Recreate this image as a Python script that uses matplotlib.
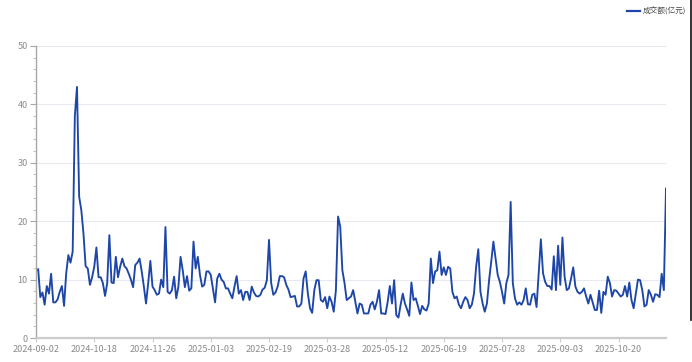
import matplotlib
matplotlib.use("Agg")
import matplotlib.pyplot as plt
from matplotlib.lines import Line2D
import numpy as np

plt.rcParams['font.family'] = ['Noto Sans CJK SC', 'DejaVu Sans']

series_name = "成交额(亿元)"

tick_labels = ["2024-09-02", "2024-10-18", "2024-11-26", "2025-01-03", "2025-02-19",
               "2025-03-28", "2025-05-12", "2025-06-19", "2025-07-28", "2025-09-03",
               "2025-10-20"]
tick_step = 27

values_a = [11.5, 11.8, 7.0, 7.8, 5.7, 8.9, 7.6, 11.0, 6.1, 6.1,
            6.6, 7.9, 8.9, 5.5, 11.1, 14.2, 12.9, 14.8, 38.0, 43.0,
            24.2, 21.9, 17.9, 12.3, 11.9, 9.1, 10.4, 12.2, 15.5, 10.4,
            10.4, 9.4, 7.2, 9.4, 17.6, 9.5, 9.4, 13.9, 10.4, 12.2,
            13.6, 12.3, 11.9, 11.0, 10.0, 8.7, 12.5, 12.9, 13.6, 11.4,
            8.8, 5.9, 9.4, 13.2, 8.8, 8.2, 7.4, 7.6, 10.0, 8.7,
            19.0, 7.9, 7.6, 8.2, 10.5, 6.8, 8.8, 13.9, 11.6, 8.7,
            10.6, 8.1, 8.5, 16.5, 11.9, 13.9, 10.8, 8.8, 9.1, 11.4,
            11.4, 10.8, 8.5, 6.1, 10.2, 11.0, 10.0, 9.6, 8.5, 8.5,
            7.6, 6.8, 8.8, 10.6, 7.6]
values_b = [8.2, 6.5, 7.9, 7.9, 6.5, 8.8, 7.8, 7.2, 7.1, 7.4,
            8.3, 8.6, 9.9, 16.8, 9.4, 7.4, 7.8, 8.8, 10.6, 10.6,
            10.4, 9.1, 8.3, 7.0, 7.1, 7.2, 5.4, 5.4, 5.9, 10.2,
            11.4, 7.6, 5.1, 4.3, 8.2, 9.9, 9.9, 6.5, 6.2, 7.0,
            5.1, 7.1, 6.2, 4.5, 8.2, 20.8, 19.1, 11.6, 9.4, 6.5,
            6.8, 7.1, 8.2, 6.2, 4.2, 5.9, 5.7, 4.2, 4.2, 4.2,
            5.7, 6.2, 4.9, 6.2, 8.2, 4.2, 4.2, 4.1, 6.2, 8.9,
            5.9, 9.9, 3.9, 3.5, 5.7, 7.6, 5.9, 4.9, 3.8, 9.5,
            6.5, 6.8, 5.5, 4.1, 5.5, 4.9, 4.7, 5.9, 13.6, 9.4,
            11.4, 11.6, 14.8, 10.8, 12.1]
values_c = [10.8, 12.2, 11.9, 7.9, 6.8, 7.1, 5.7, 5.1, 6.2, 7.0,
            6.5, 5.1, 5.7, 7.6, 12.2, 15.2, 7.9, 5.9, 4.5, 5.9,
            9.9, 13.1, 16.5, 13.6, 10.8, 9.6, 7.9, 5.9, 9.4, 10.8,
            23.3, 9.4, 6.8, 5.7, 6.1, 5.7, 6.5, 8.5, 5.8, 5.7,
            7.4, 7.6, 5.3, 11.0, 16.9, 11.1, 9.6, 8.9, 8.9, 8.3,
            14.0, 8.2, 15.8, 9.1, 17.2, 10.5, 8.2, 8.5, 10.2, 12.1,
            8.8, 7.9, 7.6, 7.9, 8.5, 7.1, 5.9, 7.4, 6.1, 4.8,
            4.8, 8.1, 4.3, 7.9, 7.4, 10.5, 9.4, 7.1, 8.2, 8.1,
            7.6, 7.1, 7.4, 8.9, 7.1, 9.5, 6.5, 5.1, 7.6, 10.0,
            9.9, 8.2, 5.4, 5.7, 8.2, 7.4, 6.2, 7.5, 7.4, 7.0,
            11.0, 8.2, 25.6]

values = values_a + values_b + values_c
x = np.arange(len(values))

W, H = 692, 362
fig = plt.figure(figsize=(W / 100, H / 100), dpi=100)
ax = fig.add_axes([36 / W, 1 - 338 / H, (666 - 36) / W, (338 - 46) / H])

line_color = "#1d46a8"
ax.plot(x, values, color=line_color, lw=1.35, solid_joinstyle="round")

ax.set_xlim(0, len(values) - 1)
ax.set_ylim(0, 50)
ax.set_yticks(np.arange(0, 51, 10))
ax.set_yticks(np.arange(0, 51, 2), minor=True)
ax.grid(axis="y", color="#e6e9f0", lw=0.8)
ax.set_axisbelow(True)

tick_pos = [i * tick_step for i in range(len(tick_labels))]
ax.set_xticks(tick_pos)
ax.set_xticklabels(tick_labels)

for s in ["top", "right"]:
    ax.spines[s].set_visible(False)
ax.spines["left"].set_color("#a8a8a8")
ax.spines["left"].set_linewidth(1.0)
ax.spines["bottom"].set_color("#cccccc")
ax.spines["bottom"].set_linewidth(1.6)

ax.tick_params(axis="y", which="major", length=4, width=0.8, color="#a8a8a8",
               labelsize=6.5, labelcolor="#8a8a8a", pad=2)
ax.tick_params(axis="y", which="minor", length=2, width=0.6, color="#b8b8b8")
ax.tick_params(axis="x", which="major", length=3, width=0.8, color="#cccccc",
               labelsize=6.5, labelcolor="#8a8a8a", pad=2)

# legend
fig.add_artist(Line2D([627 / W, 640 / W], [1 - 11 / H, 1 - 11 / H],
                      color=line_color, lw=1.6))
fig.text(643 / W, 1 - 11 / H, series_name, fontsize=5.5, color="#444444",
         va="center", ha="left")

# right border line seen in the reference
fig.add_artist(Line2D([690.5 / W, 690.5 / W], [1 - 320 / H, 1.0],
                      color="#111111", lw=1.2))

fig.savefig("out.png", dpi=100)
